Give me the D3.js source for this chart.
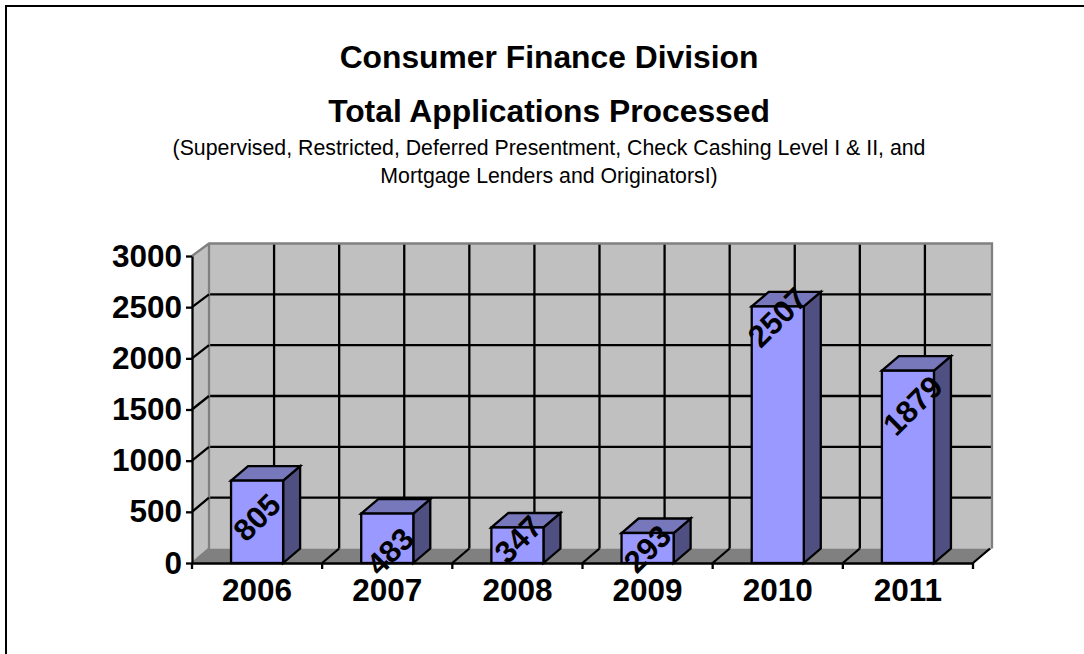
<!DOCTYPE html>
<html>
<head>
<meta charset="utf-8">
<script src="https://cdn.jsdelivr.net/npm/d3@7"></script>
<style>
  html, body { margin: 0; padding: 0; background: #fff; }
  text { font-family: "Liberation Sans", Arial, sans-serif; fill: #000; }
</style>
</head>
<body>
<div id="chart"></div>
<script>
const years = ["2006", "2007", "2008", "2009", "2010", "2011"];
const applications = [805, 483, 347, 293, 2507, 1879];
const yTicks = [0, 500, 1000, 1500, 2000, 2500, 3000];
const titleLines = ["Consumer Finance Division", "Total Applications Processed"];
const subtitleLines = [
    "(Supervised, Restricted, Deferred Presentment, Check Cashing Level I & II, and",
    "Mortgage Lenders and OriginatorsI)",
];

const width = 1084;
const height = 654;
const depth = { x: 17, y: 14.5 };
const plot = { left: 192, right: 973, top: 256, bottom: 563 };
const lineWidth = 2.3;

// how far below the bar top each label's centre sits
const labelDrop = [37, 38, 12, 16, 11, 35];
const labelShift = [0, 3, 1, 0, 0, 5];

const colors = {
    wall: "#c0c0c0",
    floor: "#808080",
    front: "#9999ff",
    top: "#7777bb",
    side: "#4f4f82",
};

const svg = d3
    .select("#chart")
    .append("svg")
    .attr("width", width)
    .attr("height", height)
    .style("display", "block");

svg.append("rect")
    .attr("x", 6)
    .attr("y", 6)
    .attr("width", width + 20)
    .attr("height", height + 20)
    .attr("fill", "none")
    .attr("stroke", "#000")
    .attr("stroke-width", 2);

// Titles
svg.selectAll(".title")
    .data(titleLines)
    .join("text")
    .attr("class", "title")
    .attr("x", 549)
    .attr("y", (d, i) => 68 + i * 54)
    .attr("text-anchor", "middle")
    .style("font-size", "31.8px")
    .style("font-weight", "bold")
    .text((d) => d);

svg.selectAll(".subtitle")
    .data(subtitleLines)
    .join("text")
    .attr("class", "subtitle")
    .attr("x", 549)
    .attr("y", (d, i) => 155 + i * 27.7)
    .attr("text-anchor", "middle")
    .style("font-size", "21.3px")
    .text((d) => d);

const xScale = d3.scaleBand().domain(years).range([plot.left, plot.right]);
const yScale = d3.scaleLinear().domain([0, 3000]).range([plot.bottom, plot.top]);
const barWidth = xScale.bandwidth() * 0.4;
const barX = (d) => xScale(d) + (xScale.bandwidth() - barWidth) / 2;

const back = { x: plot.left + depth.x, y: plot.bottom - depth.y };
const wallRight = plot.right + depth.x + 2;
const backY = (v) => yScale(v) - depth.y + (v / 3000) * 2;

// Side wall, floor and back wall
svg.append("path")
    .attr("d", `M${plot.left},${plot.top} L${back.x},${backY(3000)} V${back.y} L${plot.left},${plot.bottom} Z`)
    .attr("fill", colors.wall)
    .attr("stroke", "none");
svg.append("rect")
    .attr("x", back.x)
    .attr("y", backY(3000))
    .attr("width", wallRight - back.x)
    .attr("height", back.y - backY(3000))
    .attr("fill", colors.wall);
svg.append("path")
    .attr("d", `M${plot.left},${plot.bottom} L${back.x},${back.y} H${wallRight} L${plot.right},${plot.bottom} Z`)
    .attr("fill", colors.floor);

// Gridlines on the wall
const gridX = d3.range(1, 12).map((i) => back.x + (i * xScale.bandwidth()) / 2);
svg.selectAll(".grid-x")
    .data(gridX)
    .join("line")
    .attr("class", "grid-x")
    .attr("x1", (d) => d)
    .attr("x2", (d) => d)
    .attr("y1", backY(3000))
    .attr("y2", back.y)
    .attr("stroke", "#000")
    .attr("stroke-width", lineWidth);
svg.selectAll(".grid-y")
    .data(yTicks.slice(1, -1))
    .join("line")
    .attr("class", "grid-y")
    .attr("x1", back.x)
    .attr("x2", wallRight)
    .attr("y1", backY)
    .attr("y2", backY)
    .attr("stroke", "#000")
    .attr("stroke-width", lineWidth);

// Grey frame of the wall
svg.append("path")
    .attr("d", `M${plot.left},${plot.top} L${back.x},${backY(3000)} H${wallRight} V${back.y} M${back.x},${backY(3000)} V${back.y} L${plot.left},${plot.bottom}`)
    .attr("fill", "none")
    .attr("stroke", colors.floor)
    .attr("stroke-width", lineWidth);

// Slanted grid on the side wall and floor
svg.selectAll(".side-grid")
    .data(yTicks.slice(1, -1))
    .join("line")
    .attr("class", "side-grid")
    .attr("x1", plot.left)
    .attr("x2", back.x)
    .attr("y1", yScale)
    .attr("y2", backY)
    .attr("stroke", "#000")
    .attr("stroke-width", lineWidth);
svg.selectAll(".floor-grid")
    .data(years.slice(1).concat("end"))
    .join("line")
    .attr("class", "floor-grid")
    .attr("x1", (d) => (d === "end" ? plot.right : xScale(d)))
    .attr("x2", (d) => (d === "end" ? plot.right : xScale(d)) + depth.x)
    .attr("y1", plot.bottom)
    .attr("y2", back.y)
    .attr("stroke", "#000")
    .attr("stroke-width", lineWidth);

// Axes
const yAxis = svg
    .append("g")
    .attr("transform", `translate(${plot.left}, 0)`)
    .call(
        d3.axisLeft(yScale)
            .tickValues(yTicks)
            .tickFormat(d3.format("d"))
            .tickSize(6)
            .tickPadding(4)
            .tickSizeOuter(0)
    );
const xAxis = svg
    .append("g")
    .attr("transform", `translate(0, ${plot.bottom})`)
    .call(d3.axisBottom(xScale).tickSize(0).tickPadding(16).tickSizeOuter(0));

[yAxis, xAxis].forEach((axis) => {
    axis.selectAll("path").attr("stroke", "#000").attr("stroke-width", lineWidth);
    axis.selectAll("line").attr("stroke", "#000").attr("stroke-width", lineWidth);
    axis.selectAll("text")
        .attr("fill", "#000")
        .style("font-family", '"Liberation Sans", Arial, sans-serif')
        .style("font-size", "31.5px")
        .style("font-weight", "bold");
});

// Ticks sit between the categories on the x axis
svg.selectAll(".x-tick")
    .data(years.concat("end"))
    .join("line")
    .attr("class", "x-tick")
    .attr("x1", (d) => (d === "end" ? plot.right : xScale(d)))
    .attr("x2", (d) => (d === "end" ? plot.right : xScale(d)))
    .attr("y1", plot.bottom)
    .attr("y2", plot.bottom + 6)
    .attr("stroke", "#000")
    .attr("stroke-width", lineWidth);

// 3D bars
const bars = svg
    .selectAll(".bar")
    .data(years.map((year, i) => ({ year, value: applications[i], i })))
    .join("g")
    .attr("class", "bar")
    .attr("stroke", "#000")
    .attr("stroke-width", lineWidth)
    .attr("stroke-linejoin", "miter");

bars.append("path")
    .attr("fill", colors.side)
    .attr("d", (d) => {
        const x = barX(d.year) + barWidth;
        return `M${x},${yScale(d.value)} l${depth.x},${-depth.y} V${plot.bottom - depth.y} L${x},${plot.bottom} Z`;
    });
bars.append("path")
    .attr("fill", colors.top)
    .attr("d", (d) => {
        const x = barX(d.year);
        return `M${x},${yScale(d.value)} l${depth.x},${-depth.y} h${barWidth} l${-depth.x},${depth.y} Z`;
    });
bars.append("rect")
    .attr("fill", colors.front)
    .attr("x", (d) => barX(d.year))
    .attr("y", (d) => yScale(d.value))
    .attr("width", barWidth)
    .attr("height", (d) => plot.bottom - yScale(d.value));

// Rotated value labels
svg.selectAll(".value-label")
    .data(years.map((year, i) => ({ year, value: applications[i], i })))
    .join("text")
    .attr("class", "value-label")
    .attr("text-anchor", "middle")
    .attr("dominant-baseline", "central")
    .attr("transform", (d) => {
        const x = barX(d.year) + barWidth / 2 + labelShift[d.i];
        const y = yScale(d.value) + labelDrop[d.i];
        return `translate(${x}, ${y}) rotate(-45)`;
    })
    .style("font-size", "31px")
    .style("font-weight", "bold")
    .text((d) => d.value);
</script>
</body>
</html>
